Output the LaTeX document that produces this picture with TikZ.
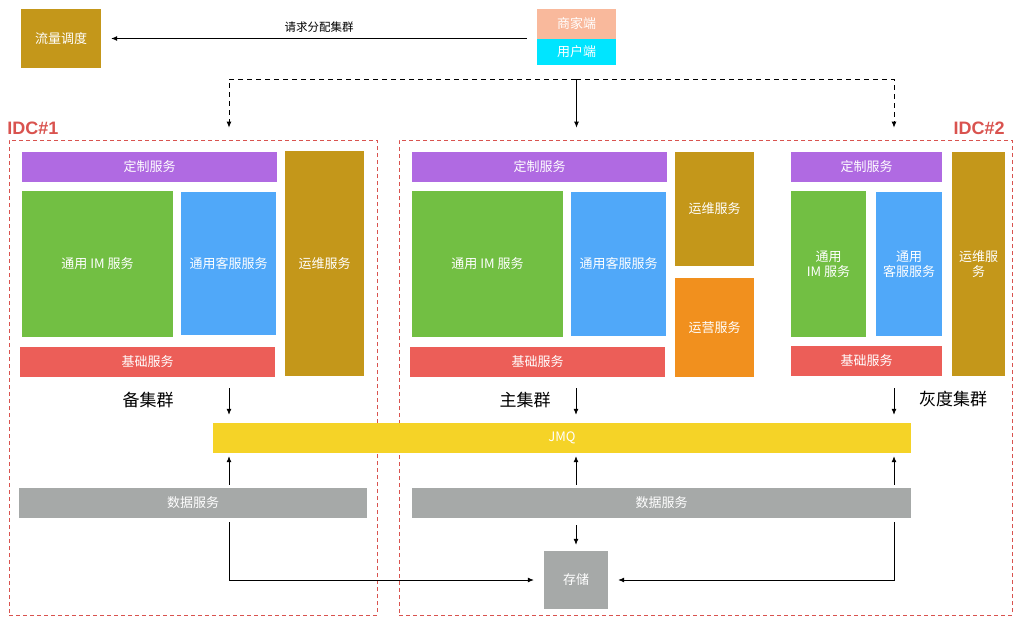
\documentclass[tikz,border=0pt]{standalone}
\usepackage{fontspec}
\setmainfont{Noto Sans CJK SC}
\newfontfamily\idcfont{Liberation Sans}
\usetikzlibrary{arrows.meta}
\usepackage{xcolor}
\definecolor{opsgold}{HTML}{C4971A}
\definecolor{shopsalmon}{HTML}{F9B99C}
\definecolor{usercyan}{HTML}{00E5FF}
\definecolor{custpurple}{HTML}{B06AE2}
\definecolor{imgreen}{HTML}{72BF43}
\definecolor{kfblue}{HTML}{50A8F9}
\definecolor{basered}{HTML}{EC5E58}
\definecolor{yyorange}{HTML}{F1901E}
\definecolor{mqyellow}{HTML}{F5D327}
\definecolor{datagray}{HTML}{A6A9A8}
\definecolor{idcred}{HTML}{D9534F}

\begin{document}
\begin{tikzpicture}[
  x=1pt, y=-1pt,
  font=\fontsize{13}{15}\selectfont,
  box/.style={fill=#1, text=white, align=center, inner sep=0pt},
  arr/.style={-{Latex[length=6pt,width=5pt]}, line width=0.8pt},
  route/.style={arr, dash pattern=on 5pt off 4pt},
  frame/.style={draw=idcred, dash pattern=on 4pt off 3pt, line width=0.8pt, inner sep=0pt},
  group/.style={font=\fontsize{17}{19}\selectfont},
  idc/.style={text=idcred, font=\idcfont\fontsize{18}{20}\selectfont\bfseries}
]
\useasboundingbox (0,0) rectangle (1024,618);

% entry
\node[box=opsgold, minimum width=80pt, minimum height=59pt] (flow) at (61,38.5) {流量调度};
\node[box=shopsalmon, minimum width=79pt, minimum height=30pt] (shop) at (576.5,24) {商家端};
\node[box=usercyan, minimum width=79pt, minimum height=26pt] (user) at (576.5,52) {用户端};

% IDC frames
\node[frame, minimum width=368pt, minimum height=475pt] (idc1) at (193,377.5) {};
\node[frame, minimum width=613pt, minimum height=475pt] (idc2) at (705.5,377.5) {};
\node[idc] (idc1lbl) at (33,128) {IDC\#1};
\node[idc] (idc2lbl) at (979,128) {IDC\#2};

% backup cluster
\node[box=custpurple, minimum width=255pt, minimum height=30pt] (cust1) at (149.5,167) {定制服务};
\node[box=imgreen, minimum width=151pt, minimum height=146pt] (im1) at (97.5,264) {通用 IM 服务};
\node[box=kfblue, minimum width=95pt, minimum height=143pt] (kf1) at (228.5,263.5) {通用客服服务};
\node[box=basered, minimum width=255pt, minimum height=30pt] (base1) at (147.5,362) {基础服务};
\node[box=opsgold, minimum width=79pt, minimum height=225pt] (ops1) at (324.5,263.5) {运维服务};
\node[group] (grp1) at (148,400) {备集群};

% main cluster
\node[box=custpurple, minimum width=255pt, minimum height=30pt] (cust2) at (539.5,167) {定制服务};
\node[box=imgreen, minimum width=151pt, minimum height=146pt] (im2) at (487.5,264) {通用 IM 服务};
\node[box=kfblue, minimum width=95pt, minimum height=144pt] (kf2) at (618.5,264) {通用客服服务};
\node[box=basered, minimum width=255pt, minimum height=30pt] (base2) at (537.5,362) {基础服务};
\node[box=opsgold, minimum width=79pt, minimum height=114pt] (ops2) at (714.5,209) {运维服务};
\node[box=yyorange, minimum width=79pt, minimum height=99pt] (yy2) at (714.5,327.5) {运营服务};
\node[group] (grp2) at (525,400) {主集群};

% gray cluster
\node[box=custpurple, minimum width=151pt, minimum height=30pt] (cust3) at (866.5,167) {定制服务};
\node[box=imgreen, minimum width=75pt, minimum height=146pt] (im3) at (828.5,264) {通用\\IM 服务};
\node[box=kfblue, minimum width=66pt, minimum height=144pt] (kf3) at (909,264) {通用\\客服服务};
\node[box=basered, minimum width=151pt, minimum height=30pt] (base3) at (866.5,361) {基础服务};
\node[box=opsgold, minimum width=53pt, minimum height=224pt] (ops3) at (978.5,264) {运维服\\务};
\node[group] (grp3) at (953,399) {灰度集群};

% shared
\node[box=mqyellow, minimum width=698pt, minimum height=30pt] (jmq) at (562,438) {JMQ};
\node[box=datagray, minimum width=348pt, minimum height=30pt] (data1) at (193,503) {数据服务};
\node[box=datagray, minimum width=499pt, minimum height=30pt] (data2) at (661.5,503) {数据服务};
\node[box=datagray, minimum width=64pt, minimum height=58pt] (store) at (576,580) {存储};

\coordinate (a1) at (229,0);
\coordinate (a2) at (576,0);
\coordinate (a3) at (894,0);
\coordinate (split) at (576,79);

\draw[arr, shorten <=10pt, shorten >=10pt] (flow.east -| shop.west) -- (flow.east)
  node[midway, above=2pt, font=\fontsize{11.5}{13}\selectfont] {请求分配集群};
\draw[arr, shorten <=15pt, shorten >=12pt] (user.south) -- (user.south |- idc2.north);
\draw[route] (split) -| ([yshift=12pt]idc1.north -| a1);
\draw[route] (split) -| ([yshift=12pt]idc2.north -| a3);

\draw[arr, shorten <=11pt, shorten >=8pt] (base1.south -| a1) -- (jmq.north -| a1);
\draw[arr, shorten <=11pt, shorten >=8pt] (base2.south -| a2) -- (jmq.north -| a2);
\draw[arr, shorten <=12pt, shorten >=8pt] (base3.south -| a3) -- (jmq.north -| a3);
\draw[arr, shorten <=3pt, shorten >=3pt] (data1.north -| a1) -- (jmq.south -| a1);
\draw[arr, shorten <=3pt, shorten >=3pt] (data2.north -| a2) -- (jmq.south -| a2);
\draw[arr, shorten <=3pt, shorten >=3pt] (data2.north -| a3) -- (jmq.south -| a3);
\draw[arr, shorten <=7pt, shorten >=6pt] (data2.south -| a2) -- (store.north);
\draw[arr, shorten <=4pt, shorten >=10pt] (data1.south -| a1) |- (store.west);
\draw[arr, shorten <=4pt, shorten >=10pt] (data2.south -| a3) |- (store.east);
\end{tikzpicture}
\end{document}
